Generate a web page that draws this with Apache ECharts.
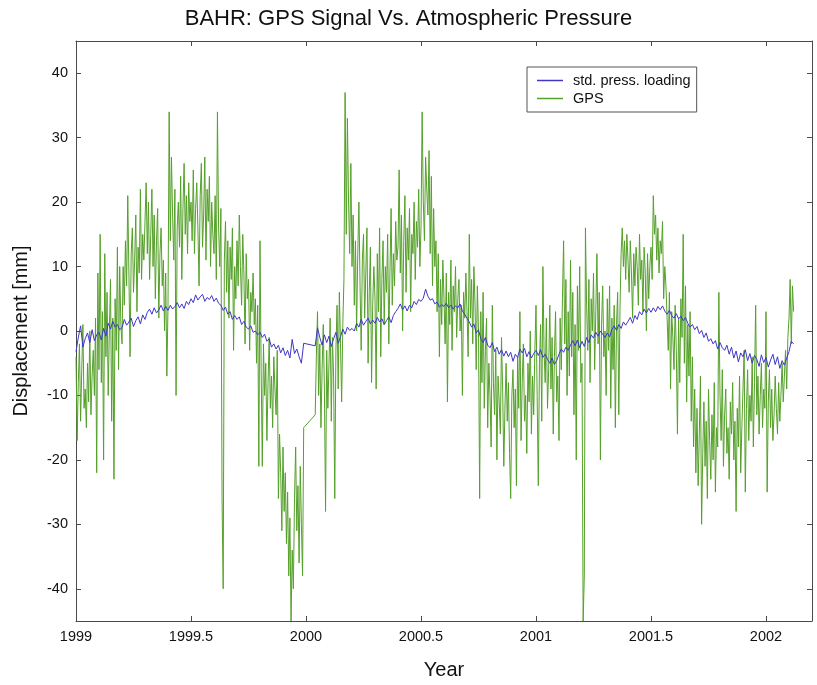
<!DOCTYPE html>
<html>
<head>
<meta charset="utf-8">
<title>BAHR: GPS Signal Vs. Atmospheric Pressure</title>
<script src="https://cdn.jsdelivr.net/npm/echarts@6/dist/echarts.min.js"></script>
<style>
  html, body { margin: 0; padding: 0; background: #fff; }
  #chart { width: 817px; height: 685px; }
</style>
</head>
<body>
<div id="chart"></div>
<script>
// BAHR station: GPS vertical displacement [mm], sampled every 0.005 yr
const gpsStep = 0.005;
const gps1999 = [
  -4, -17, -8, -2, -14, -6, 1, -12, -9, -15, -5, -11, 0, -13, -7, -3, -10, 2, -22, 9,
  -6, 15, -8, 3, -20, 12, -4, 6, -10, 0, 8, -14, 2, -23, 5, -3, 13, -6, 10, 1,
  -2, 10, 4, 14, 7, 21, 9, -4, 12, 16, 6, 11, 18, 3, 13, 9, 22, 8, 15, 11,
  17, 23, 12, 20, 8, 15, 22, 10, 18, 5, 14, 19, 2, 12, 16, 7, 11, 0, 9, -7,
  4, 34, 14, 27, 18, 11, 22, -10, 16, 20, 13, 24, 8, 19, 26, 15, 21, 12, 23, 17,
  20, 14, 25, 12, 19, 23, 16, 7, 21, 26, 13, 18, 27, 11, 22, 17, 24, 10, 20, 15,
  12, 21, 8, 34, 16, 10, 19, -26, -40, 11, 17, 6, 14, 2, 13, 8, 16, -3, 10, 5,
  14, 7, 18, 10, 4, 15, 9, -2, 12, 5, 8, -3, 6, 3, 9, 1, 5, -5, 4, -21,
  14, -6, -21, -2, -10, -5, -17, -8, -1, -12, -7, -15, -4, -9, -13, -3, -26, -16, -22, -31,
  -18, -28, -22, -33, -25, -38, -29, -45, -34, -40, -26, -18, -31, -24, -36, -21, -30, -38, -15, null
];
const gps2000 = [
  null, null, null, null, null, null, null, null, -13, -4, 3, -10, -2, -15, -6, 1, -9, -28, -3, -12,
  -5, 2, -14, -1, -7, -26, -3, 4, -9, 6, -2, -11, 1, 8, 37, 15, 33, 20, 12, 26,
  10, 18, 4, 14, 0, 12, 20, 7, -3, 11, 15, 2, 9, 16, -5, 6, 13, -8, 4, 10,
  5, -9, 12, 3, 16, -4, 8, 14, 1, 10, 6, 15, -2, 9, 19, 4, 12, 7, 17, 11,
  13, 25, 9, 18, 0, 14, 21, 6, 16, 11, 19, 3, 15, 12, 20, 8, 17, 13, 22, 10,
  16, 34, 20, 14, 27, 22, 18, 28, 12, 24, 7, 19, 10, 14, 3, 12, -4, 8, 1, 11,
  5, -2, 9, -11, 6, 1, 11, -3, 7, 3, 10, -1, 5, 8, 0, 4, -10, 6, 2, 9,
  3, -4, 15, 2, 8, -2, 10, 4, -6, 7, 0, -26, 3, -8, 6, -12, -3, 2, -15, -5,
  -10, -18, 4, -8, -13, -3, -20, -7, -11, -16, -1, -9, -21, -12, -5, -14, -8, -19, -26, -10,
  -6, -15, -9, -24, -4, -12, 3, -17, -8, -2, -14, -10, -19, -5, -11, 0, -16, -7, -13, -3
];
const gps2001 = [
  4, -10, -24, -5, 1, -14, 10, -3, -8, 2, -12, -6, 4, -9, -1, -16, -4, 3, -11, -7,
  -17, 2, -6, 5, 14, -2, 8, -10, 3, -7, 11, -4, 6, -13, 1, -20, 7, -3, 10, -8,
  -5, -45, -38, 16, 4, -3, 8, -8, 5, 0, 9, -6, 3, 12, -2, 6, -20, 1, 7, -4,
  0, -10, 5, -3, 7, -12, 2, -6, 4, -15, 1, 6, -13, 3, 12, 16, 10, 14, 8, 15,
  11, 6, 14, 9, 2, 12, 7, 13, 10, 4, 15, 8, 11, 3, 13, 9, 0, 12, 5, 10,
  13, 8, 21, 15, 18, 11, 16, 9, 14, 12, 17, 5, 10, 7, 2, -3, 6, -9, 3, -1,
  -6, 4, -3, -16, 2, -8, 5, -1, 15, -5, 7, -11, 1, -7, 3, -14, -4, -18, -9, -22,
  -12, -24, -16, -7, -30, -19, -11, -21, -14, -26, -9, -17, -23, -13, -20, -8, -25, -15, -18, 6,
  -10, -17, -6, -21, -13, -9, -19, -15, -23, -11, -16, -8, -20, -14, -28, -12, -18, -7, -22, -15,
  -9, -3, -25, -12, -6, -17, -10, -14, -4, -18, -8, 4, -13, -7, -16, -10, -5, -15, -9, -12
];
const gps2002 = [
  3, -25, -11, -6, -15, -9, -17, -13, -7, -12, -16, -8, -14, -10, -5, -11, -7, -3, -9, -1,
  2, 8, -2, 7, 3
];

// Standard atmospheric pressure loading [mm], sampled every 0.01 yr
const pressStep = 0.01;
const press1999 = [
  -3.2, -1.0, 0.8, -2.5, -1.2, -0.3, -1.8, 0.2, -1.5, -0.6,
  -0.2, -1.4, 0.4, -0.8, 1.2, 0.3, 1.5, 0.6, 1.0, 0.2,
  0.5, 1.8, 0.9, 1.4, 2.0, 0.7, 1.6, 2.2, 1.1, 2.5,
  1.8, 2.9, 3.4, 2.6, 3.6, 2.8, 3.3, 4.0, 3.1, 3.8,
  3.2, 4.0, 3.4, 3.8, 4.4, 3.6, 4.2, 3.5, 4.6, 4.1,
  5.0, 4.4, 5.6, 4.8, 5.3, 5.7, 4.6, 5.2, 4.9, 5.5,
  4.6, 5.1, 4.3, 4.0, 3.2, 3.7, 2.6, 3.0, 1.8, 2.4,
  1.8, 2.2, 1.0, 1.5, 0.6, 0.3, 0.8, -0.2, 0.0, -0.6,
  -0.2, -1.0, -0.5, -1.6, -1.2, -2.5, -2.0, -2.8, -2.2, -3.4,
  -2.6, -3.8, -3.0, -4.2, -1.3, -3.5, -2.8, -4.0, -5.0, -1.9
];
const press2000 = [
  null, null, null, null, -2.3, 0.5, -1.0, -2.2, -0.6, -1.8,
  -0.8, -2.4, -1.2, -0.2, -1.9, -0.9, 0.3, -0.5, 0.6, 0.1,
  0.4, 0.0, 1.2, 0.6, 1.8, 0.9, 1.5, 2.0, 1.1, 1.7,
  1.2, 2.1, 1.4, 1.9, 1.0, 1.6, 2.2, 1.3, 2.4, 3.0,
  3.5, 4.2, 3.3, 3.9, 3.1, 4.0, 3.6, 4.6, 4.1, 4.9,
  4.6, 5.1, 6.5, 5.4, 4.8, 5.0, 4.2, 4.5, 3.7, 4.1,
  3.8, 4.3, 3.6, 4.0, 3.4, 3.9, 3.6, 4.2, 3.1, 2.6,
  2.0, 1.4, 0.6, 1.1, -0.3, 0.2, -1.2, -1.8, -1.0, -2.2,
  -2.6, -1.8, -3.2, -2.5, -3.6, -2.9, -3.9, -3.1, -4.0, -3.3,
  -4.7, -3.6, -4.1, -2.8, -3.4, -2.7, -4.0, -3.2, -4.2, -3.5
];
const press2001 = [
  -3.0, -3.8, -2.9, -4.1, -3.6, -4.4, -5.0, -4.2, -5.2, -4.6,
  -3.6, -2.8, -3.3, -2.5, -3.0, -2.2, -1.5, -2.3, -1.4, -2.6,
  -1.6, -2.4, -1.0, -1.8, -0.6, -1.1, -0.2, -0.8, 0.0, -0.5,
  -1.0, -0.3, -0.9, 0.2, 0.8, 0.1, 1.0, 0.4, 1.4, 0.9,
  1.5, 2.1, 1.2, 2.4, 1.8, 3.0, 2.5, 3.4, 2.8, 3.5,
  2.9, 3.6, 3.0, 3.8, 3.3, 3.9, 3.1, 2.6, 3.2, 2.4,
  2.0, 2.7, 1.9, 2.3, 1.6, 2.1, 1.2, 0.6, 1.0, 0.2,
  0.7, -0.4, 0.1, -1.0, -0.3, -1.6, -1.2, -2.0, -1.5, -2.8,
  -1.8, -2.6, -3.0, -2.2, -3.6, -2.5, -4.2, -3.1, -4.8, -3.4,
  -4.0, -2.9, -4.6, -3.5, -5.0, -3.8, -4.4, -5.5, -3.7, -4.9
];
const press2002 = [
  -4.1, -5.6, -4.5, -3.6, -5.2, -4.0, -5.8, -4.6, -5.3, -4.2,
  -3.2, -1.6, -2.0
];

// Axis tick positions
const yearTicks = [1999, 1999.5, 2000, 2000.5, 2001, 2001.5, 2002];
const mmTicks = [-40, -30, -20, -10, 0, 10, 20, 30, 40];

// Pair each sample with its decimal year
function toPoints(startYear, step, values) {
  return values.map((v, i) => [+(startYear + i * step).toFixed(3), v]);
}

const gpsData = [].concat(
  toPoints(1999, gpsStep, gps1999),
  toPoints(2000, gpsStep, gps2000),
  toPoints(2001, gpsStep, gps2001),
  toPoints(2002, gpsStep, gps2002)
);
const pressData = [].concat(
  toPoints(1999, pressStep, press1999),
  toPoints(2000, pressStep, press2000),
  toPoints(2001, pressStep, press2001),
  toPoints(2002, pressStep, press2002)
);

const FONT = '"Liberation Sans", Arial, Helvetica, sans-serif';
const AXIS_COLOR = '#4a4a4a';

const baseX = {
  type: 'value', min: 1999, max: 2002.2,
  splitLine: { show: false },
  axisLine: { show: true, onZero: false, lineStyle: { color: AXIS_COLOR, width: 1 } },
  axisTick: { show: true, inside: true, length: 5, customValues: yearTicks, lineStyle: { color: AXIS_COLOR } }
};
const baseY = {
  type: 'value', min: -45, max: 45,
  splitLine: { show: false },
  axisLine: { show: true, onZero: false, lineStyle: { color: AXIS_COLOR, width: 1 } },
  axisTick: { show: true, inside: true, length: 5, customValues: mmTicks, lineStyle: { color: AXIS_COLOR } }
};

const chart = echarts.init(document.getElementById('chart'), null, { renderer: 'canvas' });
chart.setOption({
  animation: false,
  backgroundColor: '#ffffff',
  textStyle: { fontFamily: FONT },
  title: {
    text: 'BAHR: GPS Signal Vs. Atmospheric Pressure',
    left: 'center',
    top: 3,
    textStyle: { fontSize: 22, fontWeight: 'normal', color: '#111', fontFamily: FONT }
  },
  legend: {
    orient: 'vertical',
    left: 527,
    top: 67,
    padding: [6, 6, 6, 10],
    itemGap: 3,
    itemWidth: 26,
    itemHeight: 1.5,
    icon: 'rect',
    backgroundColor: '#ffffff',
    borderColor: '#555',
    borderWidth: 1,
    borderRadius: 0,
    textStyle: { fontSize: 14.5, color: '#111', fontFamily: FONT, padding: [0, 0, 0, 5] },
    data: ['std. press. loading', 'GPS']
  },
  grid: { left: 76, right: 5, top: 41, bottom: 64, containLabel: false },
  xAxis: [
    Object.assign({}, baseX, {
      position: 'bottom',
      name: 'Year',
      nameLocation: 'middle',
      nameGap: 39,
      nameTextStyle: { fontSize: 20, color: '#111', fontFamily: FONT },
      axisLabel: {
        show: true, customValues: yearTicks, margin: 8,
        fontSize: 14.5, color: '#111', fontFamily: FONT,
        formatter: v => String(v)
      }
    }),
    Object.assign({}, baseX, { position: 'top', axisLabel: { show: false } })
  ],
  yAxis: [
    Object.assign({}, baseY, {
      position: 'left',
      name: 'Displacement [mm]',
      nameLocation: 'middle',
      nameGap: 45,
      nameRotate: 90,
      nameTextStyle: { fontSize: 20, color: '#111', fontFamily: FONT },
      axisLabel: {
        show: true, customValues: mmTicks, margin: 8,
        fontSize: 14.5, color: '#111', fontFamily: FONT,
        formatter: v => String(v)
      }
    }),
    Object.assign({}, baseY, { position: 'right', axisLabel: { show: false } })
  ],
  series: [
    {
      name: 'GPS',
      type: 'line',
      xAxisIndex: 0,
      yAxisIndex: 0,
      data: gpsData,
      showSymbol: false,
      connectNulls: true,
      color: '#55a02a',
      lineStyle: { width: 1, color: '#55a02a' },
      z: 2
    },
    {
      name: 'std. press. loading',
      type: 'line',
      xAxisIndex: 0,
      yAxisIndex: 0,
      data: pressData,
      showSymbol: false,
      connectNulls: true,
      color: '#3f36c8',
      lineStyle: { width: 1, color: '#3f36c8' },
      z: 3
    }
  ]
});
</script>
</body>
</html>
